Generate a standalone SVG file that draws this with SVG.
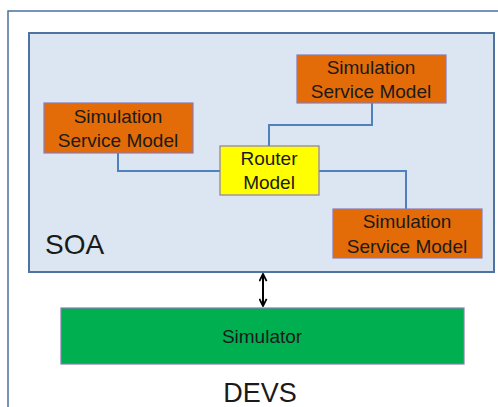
<svg xmlns="http://www.w3.org/2000/svg" width="498" height="407" viewBox="0 0 498 407">
  <defs>
    <style>
      .lbl { font-family: "Liberation Sans", Arial, sans-serif; fill: #1a1a1a; text-anchor: middle; font-size: 19px; }
      .ssm { fill: #e36c09; stroke: #8a7ab8; stroke-width: 1.2; }
      .wire { fill: none; stroke: #4f81bd; stroke-width: 2; }
    </style>
    <marker id="head" viewBox="0 0 10 10" refX="9" refY="5" markerWidth="9" markerHeight="9" orient="auto-start-reverse" markerUnits="userSpaceOnUse">
      <path d="M1,1 L9,5 L1,9" fill="none" stroke="#000" stroke-width="2"/>
    </marker>
  </defs>

  <rect width="498" height="407" fill="#ffffff"/>

  <!-- DEVS frame, runs off the right and bottom edges -->
  <g id="devs">
    <rect x="8" y="11" width="500" height="410" fill="#ffffff" stroke="#4a6fa0" stroke-width="1.5"/>
    <text class="lbl" x="260" y="402" style="font-size:27px">DEVS</text>
  </g>

  <!-- SOA container -->
  <g id="soa">
    <rect x="29" y="33" width="465" height="239" fill="#dce6f2" stroke="#4f73a0" stroke-width="2"/>
    <text x="45" y="254" font-family="Liberation Sans, Arial, sans-serif" font-size="28" fill="#1a1a1a">SOA</text>
  </g>

  <!-- connectors -->
  <g id="connectors">
    <polyline class="wire" points="372,103 372,125 269,125 269,146"/>
    <polyline class="wire" points="118,153 118,171 220,171"/>
    <polyline class="wire" points="319,171 406,171 406,209"/>
    <line x1="263" y1="274" x2="263" y2="306" stroke="#000" stroke-width="2" marker-start="url(#head)" marker-end="url(#head)"/>
  </g>

  <g id="ssm-top">
    <rect class="ssm" x="297" y="55" width="149" height="48"/>
    <text class="lbl" x="371" y="74">Simulation</text>
    <text class="lbl" x="371" y="98">Service Model</text>
  </g>

  <g id="ssm-left">
    <rect class="ssm" x="44" y="103" width="149" height="50"/>
    <text class="lbl" x="118" y="123">Simulation</text>
    <text class="lbl" x="118" y="147">Service Model</text>
  </g>

  <g id="router">
    <rect x="220" y="146" width="99" height="49" fill="#ffff00" stroke="#8a7ab8" stroke-width="1.2"/>
    <text class="lbl" x="269" y="165">Router</text>
    <text class="lbl" x="269" y="189">Model</text>
  </g>

  <g id="ssm-bottom">
    <rect class="ssm" x="333" y="209" width="149" height="49"/>
    <text class="lbl" x="407" y="228">Simulation</text>
    <text class="lbl" x="407" y="253">Service Model</text>
  </g>

  <g id="simulator">
    <rect x="61" y="308" width="403" height="56" fill="#00b050" stroke="#8a7ab8" stroke-width="1.2"/>
    <text class="lbl" x="262" y="343">Simulator</text>
  </g>
</svg>
